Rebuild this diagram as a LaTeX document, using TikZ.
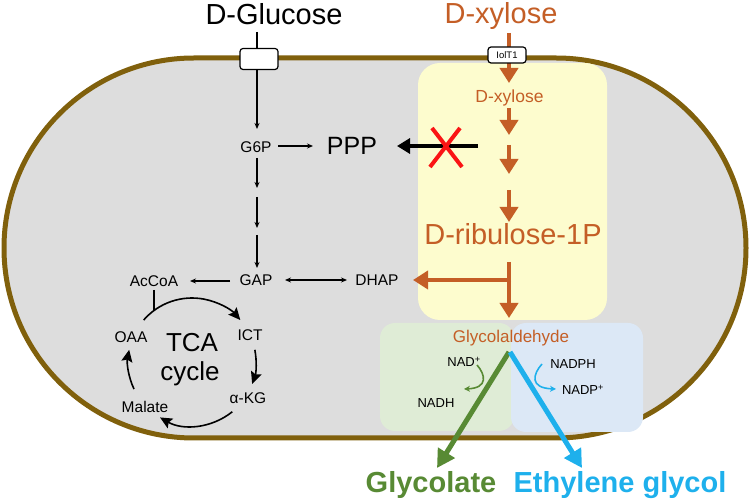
\documentclass[tikz,border=0pt]{standalone}
\usepackage{fontspec}
\setmainfont{Liberation Sans}
\usetikzlibrary{arrows.meta}
\definecolor{cellline}{RGB}{128,96,12}
\definecolor{cellfill}{RGB}{221,221,221}
\definecolor{xyl}{RGB}{196,94,38}
\definecolor{yel}{RGB}{253,252,206}
\definecolor{grn}{RGB}{88,138,52}
\definecolor{grnbox}{RGB}{223,236,214}
\definecolor{blu}{RGB}{30,176,236}
\definecolor{blubox}{RGB}{220,232,246}
\definecolor{xred}{RGB}{250,20,20}
\begin{document}
\begin{tikzpicture}[x=1pt,y=1pt,
  big/.style={font=\fontsize{29}{32}\selectfont, inner sep=0, anchor=base},
  mid/.style={font=\fontsize{17.5}{20}\selectfont, inner sep=0, anchor=base},
  lbl/.style={font=\fontsize{15.5}{18}\selectfont, inner sep=0, anchor=base},
  cof/.style={font=\fontsize{13}{15}\selectfont, inner sep=0, anchor=base},
  tarr/.style={line width=1.3pt, -{Stealth[length=6pt,width=5pt]}},
  tcaarr/.style={line width=1.6pt, -{Stealth[length=12pt,width=11pt,inset=2pt]}},
  oarr/.style={xyl, line width=4pt, -{Triangle[length=15pt,width=18pt]}},
  porter/.style={draw=black, line width=1.2pt, fill=white, rounded corners=3pt, inner sep=0}
]
\useasboundingbox (0,0) rectangle (750,-502);
% cell
\draw[cellline, line width=5pt, fill=cellfill, rounded corners=189.9pt] (4,-58) rectangle (746,-438);
% boxes
\fill[yel, rounded corners=22pt] (418,-63) rectangle (607,-320);
\fill[grnbox, rounded corners=15pt] (380,-323) rectangle (514,-431);
\fill[blubox, rounded corners=15pt] (511,-323) rectangle (643,-432);

% texts
\node[big] (glc) at (274,-25) {D-Glucose};
\node[big, text=xyl] (xylo) at (501,-24) {D-xylose};
\node[mid, text=xyl] (xyli) at (509.5,-103) {D-xylose};
\node[big, text=xyl] (rib) at (513,-245) {D-ribulose-1P};
\node[font=\fontsize{17}{20}\selectfont, inner sep=0, anchor=base, text=xyl] (gla) at (511,-343) {Glycolaldehyde};
\node[lbl] (g6p) at (256,-153) {G6P};
\node[font=\fontsize{25}{28}\selectfont, inner sep=0, anchor=base] (ppp) at (352,-155) {PPP};
\node[lbl] (gap) at (256,-286) {GAP};
\node[lbl] (dhap) at (377,-286) {DHAP};
\node[lbl] (accoa) at (154,-287) {AcCoA};
\node[lbl] (oaa) at (131,-343) {OAA};
\node[lbl] (ict) at (250,-341) {ICT};
\node[lbl] (akg) at (248,-404) {α-KG};
\node[lbl] (mal) at (145,-413) {Malate};
\node[font=\fontsize{26}{28}\selectfont, inner sep=0, anchor=base] (tca) at (192,-352) {TCA};
\node[font=\fontsize{26}{28}\selectfont, inner sep=0, anchor=base] (cyc) at (190,-381) {cycle};
\node[cof] (nadp) at (464,-367) {NAD\textsuperscript{+}};
\node[cof] (nadh) at (436,-408) {NADH};
\node[cof] (nadph) at (573,-369) {NADPH};
\node[cof] (nadpp) at (583,-395) {NADP\textsuperscript{+}};
\node[font=\bfseries\fontsize{29}{32}\selectfont, inner sep=0, anchor=base, text=grn] (glyc) at (431,-493) {Glycolate};
\node[font=\bfseries\fontsize{29}{32}\selectfont, inner sep=0, anchor=base, text=blu] (eg) at (620,-493) {Ethylene glycol};

% coordinates
\coordinate (glcA) at (257,-32);
\coordinate (glcB) at (257,-129);
\coordinate (g6pR) at (278,-146);
\coordinate (pppL) at (313,-146);
\coordinate (d1a) at (257,-158); \coordinate (d1b) at (257,-188);
\coordinate (d2a) at (257,-197); \coordinate (d2b) at (257,-228);
\coordinate (d3a) at (257,-235); \coordinate (d3b) at (257,-268);
\coordinate (gapR) at (285,-280); \coordinate (dhapL) at (347,-280);
\coordinate (gapL) at (230,-281); \coordinate (accoaR) at (190,-281);
\coordinate (accoaB) at (154,-290); \coordinate (arcJ) at (154,-311);

% black pathway
\draw[tarr] (glcA) -- (glcB);
\node[porter, minimum width=38pt, minimum height=21pt] (glut) at (259,-59) {};
\draw[tarr] (g6pR) -- (pppL);
\draw[tarr] (d1a) -- (d1b);
\draw[tarr] (d2a) -- (d2b);
\draw[tarr] (d3a) -- (d3b);
\draw[line width=1.3pt, {Stealth[length=6pt,width=5pt]}-{Stealth[length=6pt,width=5pt]}] (gapR) -- (dhapL);
\draw[tarr] (gapL) -- (accoaR);
\draw[line width=1.3pt] (accoaB) -- (arcJ);

% TCA arcs (center 192,-362 r 64)
\coordinate (tcac) at (192,-362);
\draw[tcaarr] ([shift={(139:64)}]tcac) arc[start angle=139, end angle=41, radius=64];
\draw[tcaarr] ([shift={(11:64)}]tcac) arc[start angle=11, end angle=-20, radius=64];
\draw[tcaarr] ([shift={(-51:64)}]tcac) arc[start angle=-51, end angle=-120, radius=64];
\draw[tcaarr] ([shift={(205:64)}]tcac) arc[start angle=205, end angle=169, radius=64];

% PPP block
\coordinate (pppS) at (478,-146); \coordinate (pppT) at (397,-146);
\draw[line width=3.5pt, -{Triangle[length=13pt,width=15pt]}] (pppS) -- (pppT);
\coordinate (x1) at (432,-128); \coordinate (x2) at (462,-167);
\coordinate (x3) at (460,-128); \coordinate (x4) at (430,-167);
\draw[xred, line width=4pt] (x1) -- (x2);
\draw[xred, line width=4pt] (x3) -- (x4);

% orange pathway
\coordinate (o0a) at (509,-33); \coordinate (o0b) at (509,-83);
\coordinate (o1a) at (509,-108); \coordinate (o1b) at (509,-135);
\coordinate (o2a) at (509,-145); \coordinate (o2b) at (509,-174);
\coordinate (o3a) at (509,-190); \coordinate (o3b) at (509,-222);
\coordinate (o4a) at (509,-262); \coordinate (o4b) at (509,-318);
\coordinate (o5a) at (511,-280); \coordinate (o5b) at (413,-280);
\draw[oarr] (o0a) -- (o0b);
\node[porter, minimum width=38pt, minimum height=16pt, font=\fontsize{9.5}{11}\selectfont] (iolt) at (507,-55) {IolT1};
\draw[oarr] (o1a) -- (o1b);
\draw[oarr] (o2a) -- (o2b);
\draw[oarr] (o3a) -- (o3b);
\draw[oarr] (o4a) -- (o4b);
\draw[oarr] (o5a) -- (o5b);

% products
\coordinate (gS) at (509,-352); \coordinate (gT) at (437,-468);
\coordinate (bS) at (510,-352); \coordinate (bT) at (582,-468);
\draw[grn, line width=5pt, -{Triangle[length=18pt,width=19pt]}] (gS) -- (gT);
\draw[blu, line width=5pt, -{Triangle[length=18pt,width=19pt]}] (bS) -- (bT);
\coordinate (n1) at (477,-365); \coordinate (n2) at (464,-389);
\draw[grn, line width=1.6pt, -{Stealth[length=6pt,width=6pt]}] (n1) .. controls (485,-374) and (489,-388) .. (n2);
\coordinate (p1) at (542,-364); \coordinate (p2) at (556,-389);
\draw[blu, line width=1.6pt, -{Stealth[length=6pt,width=6pt]}] (p1) .. controls (533,-374) and (529,-388) .. (p2);
\end{tikzpicture}
\end{document}
